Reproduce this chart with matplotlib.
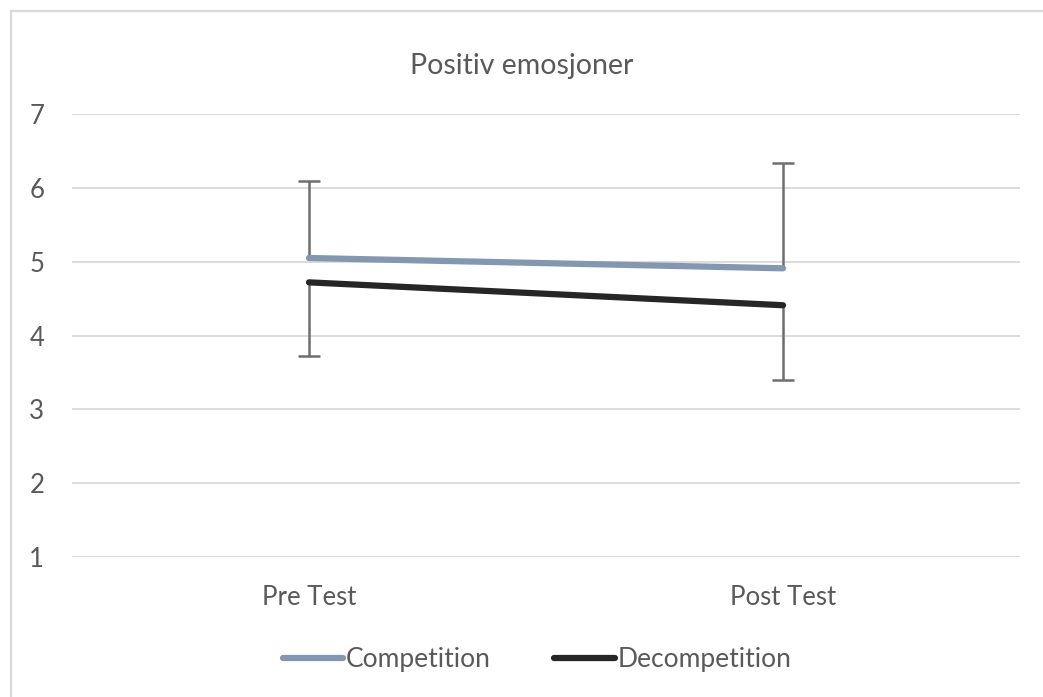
import numpy as np
import matplotlib
matplotlib.use('Agg')
import matplotlib.pyplot as plt
from matplotlib.lines import Line2D

plt.rcParams['font.family'] = ['Lato', 'DejaVu Sans']

# data
categories = ['Pre Test', 'Post Test']
competition = [5.05, 4.91]
decompetition = [4.72, 4.41]
competition_err_up = [1.04, 1.42]
decompetition_err_down = [1.00, 1.01]

text_col = '#595959'
grid_col = '#D9D9D9'
err_col = '#6E6E6E'

fig = plt.figure(figsize=(10.43, 6.97), dpi=100)
# chart border: only top and left edge visible in the crop
fig.add_artist(Line2D([10.5 / 1043, 1], [1 - 11 / 697, 1 - 11 / 697], transform=fig.transFigure,
                      color=grid_col, linewidth=1.6))
fig.add_artist(Line2D([10.5 / 1043, 10.5 / 1043], [0, 1 - 11 / 697], transform=fig.transFigure,
                      color=grid_col, linewidth=1.6))

ax = fig.add_axes([0.069, 0.2009, 0.909, 0.6355])

x = np.arange(len(categories))

# error bars, one direction each; hide the caps at the zero-length end
eb1 = ax.errorbar(x, competition, yerr=[np.zeros(2), competition_err_up], fmt='none',
                  ecolor=err_col, elinewidth=1.8, capsize=8, capthick=1.8, zorder=2)
eb1[1][0].set_visible(False)
eb2 = ax.errorbar(x, decompetition, yerr=[decompetition_err_down, np.zeros(2)], fmt='none',
                  ecolor=err_col, elinewidth=1.8, capsize=8, capthick=1.8, zorder=2)
eb2[1][1].set_visible(False)

ax.plot(x, competition, color='#8497B0', linewidth=4.5, solid_capstyle='round',
        label='Competition', zorder=3)
ax.plot(x, decompetition, color='#262626', linewidth=4.5, solid_capstyle='round',
        label='Decompetition', zorder=3)

ax.set_xlim(-0.5, 1.5)
ax.set_ylim(1, 7)
ax.set_yticks(range(1, 8))
ax.set_xticks(x)
ax.set_xticklabels(categories)
ax.yaxis.grid(True, color=grid_col, linewidth=1.3)
ax.set_axisbelow(True)
for s in ax.spines.values():
    s.set_visible(False)
ax.tick_params(axis='both', length=0, labelsize=18.5, colors=text_col)
ax.tick_params(axis='y', pad=20)
ax.tick_params(axis='x', pad=20)

fig.text(0.5, 0.905, 'Positiv emosjoner', ha='center', va='center', fontsize=20.5, color=text_col)

leg = fig.legend(loc='center', bbox_to_anchor=(0.515, 0.054), ncol=2, frameon=False,
                 fontsize=19, handlelength=2.3, handletextpad=0.1, columnspacing=2.4)
for t in leg.get_texts():
    t.set_color(text_col)

fig.savefig('out.png', dpi=100)
